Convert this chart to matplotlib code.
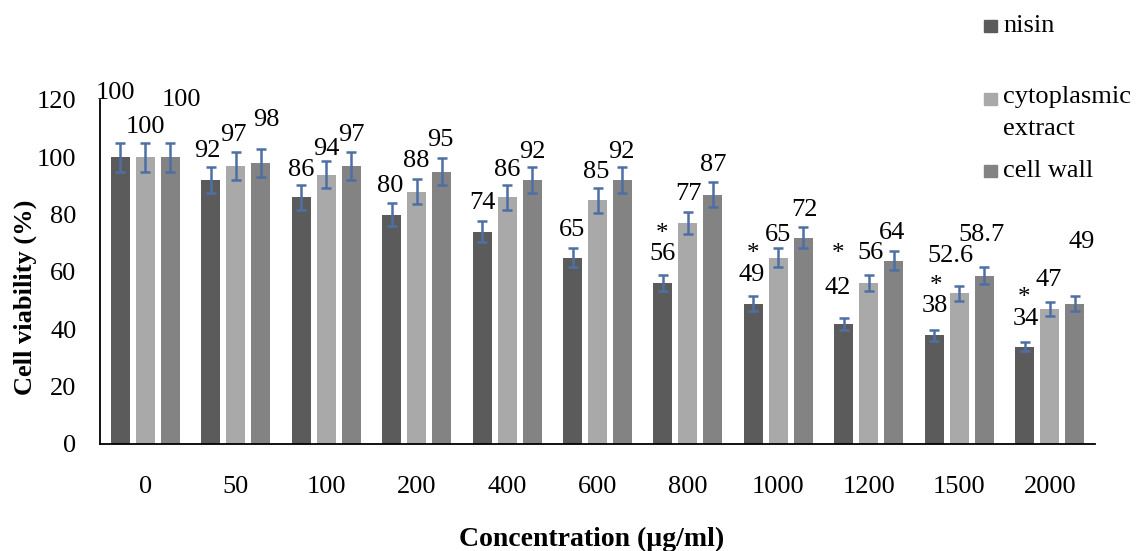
import matplotlib
matplotlib.use("Agg")
import matplotlib.pyplot as plt
from matplotlib.patches import Rectangle
import numpy as np

# data
concentrations = ['0', '50', '100', '200', '400', '600', '800', '1000', '1200', '1500', '2000']
nisin = [100, 92, 86, 80, 74, 65, 56, 49, 42, 38, 34]
cytoplasmic = [100, 97, 94, 88, 86, 85, 77, 65, 56, 52.6, 47]
cell_wall = [100, 98, 97, 95, 92, 92, 87, 72, 64, 58.7, 49]
nisin_err = [5.0, 4.6, 4.3, 4.0, 3.7, 3.3, 2.8, 2.5, 2.1, 1.9, 1.7]
cytoplasmic_err = [5.0, 4.9, 4.7, 4.4, 4.3, 4.3, 3.9, 3.3, 2.8, 2.6, 2.4]
cell_wall_err = [5.0, 4.9, 4.9, 4.8, 4.6, 4.6, 4.4, 3.6, 3.2, 2.9, 2.5]
nisin_signif = [False, False, False, False, False, False, True, True, True, True, True]

series_names = ['nisin', 'cytoplasmic\nextract', 'cell wall']
colors = ['#5b5b5b', '#a9a9a9', '#838383']
err_color = '#4d6fa3'

# label offsets (pixels: dx, up from bar top)
label_off = [
    [(-4.5, 62), (-3, 27), (0, 25), (-1, 26.5), (0, 27), (-1, 26), (0, 27), (-2, 26.5), (-6, 33.5), (1, 27), (1, 25.5)],
    [(0.5, 28), (-2, 29), (0, 23.5), (0, 28.5), (0, 25), (-1, 26), (1, 27), (0, 20.5), (2, 28), (-8.5, 35), (-1, 27)],
    [(11.5, 55), (6, 41), (0, 29), (-1, 29.5), (0, 26), (-1, 26), (0, 27.5), (1, 25.5), (-2, 25.5), (-2.5, 38.5), (7, 59.5)],
]
star_off = [None] * 6 + [(-1, 53), (0, 53.5), (-6, 73.5), (2, 53), (-1, 53)]

plt.rcParams['font.family'] = ['Liberation Serif', 'DejaVu Serif']

fig = plt.figure(figsize=(11.4, 5.51), dpi=100)
ax = fig.add_axes([100 / 1140, 1 - 444 / 551, 995 / 1140, 344 / 551])

x = np.arange(len(concentrations))
width = 0.21
step = 0.276
values = [nisin, cytoplasmic, cell_wall]
errors = [nisin_err, cytoplasmic_err, cell_wall_err]

for k, (vals, errs) in enumerate(zip(values, errors)):
    xs = x + (k - 1) * step
    ax.bar(xs, vals, width, color=colors[k], zorder=2)
    ax.errorbar(xs, vals, yerr=errs, fmt='none', ecolor=err_color,
                elinewidth=1.8, capsize=3.7, capthick=1.8, zorder=3)
    for i, v in enumerate(vals):
        dx, up = label_off[k][i]
        ax.annotate(f"{v:g}", xy=(xs[i], v), xytext=(dx, up + 2),
                    textcoords='offset pixels', ha='center', va='center',
                    fontsize=19, color='black')

for i, flag in enumerate(nisin_signif):
    if flag:
        dx, up = star_off[i]
        ax.annotate('*', xy=(x[i] - step, nisin[i]), xytext=(dx, up - 4),
                    textcoords='offset pixels', ha='center', va='center',
                    fontsize=18, color='black')

ax.set_xlim(-0.5, len(concentrations) - 0.5)
ax.set_ylim(0, 120)
ax.set_yticks([0, 20, 40, 60, 80, 100, 120])
ax.set_xticks(x)
ax.set_xticklabels(concentrations)
ax.tick_params(axis='both', length=0, labelsize=19)
ax.tick_params(axis='y', pad=17)
ax.tick_params(axis='x', pad=23)
for side in ['top', 'right']:
    ax.spines[side].set_visible(False)
for side in ['left', 'bottom']:
    ax.spines[side].set_linewidth(1.3)
    ax.spines[side].set_color('black')

fig.text(25 / 1140, 1 - 297 / 551, 'Cell viability (%)', rotation=90,
         ha='center', va='center', fontsize=19, fontweight='bold')
fig.text(592 / 1140, 1 - 539 / 551, 'Concentration (\u00b5g/ml)',
         ha='center', va='center', fontsize=20, fontweight='bold')

# legend drawn at the top right
leg_y = [26, 99, 171]
for k, name in enumerate(series_names):
    yc = leg_y[k]
    fig.patches.append(Rectangle((984 / 1140, 1 - (yc + 6) / 551), 13 / 1140, 12 / 551,
                                 transform=fig.transFigure, color=colors[k]))
    if '\n' in name:
        fig.text(1003 / 1140, 1 - (yc - 13) / 551, name, ha='left', va='top',
                 fontsize=19, linespacing=1.6)
    else:
        fig.text(1003 / 1140, 1 - yc / 551, name, ha='left', va='center', fontsize=19)

fig.savefig('out.png', dpi=100)
